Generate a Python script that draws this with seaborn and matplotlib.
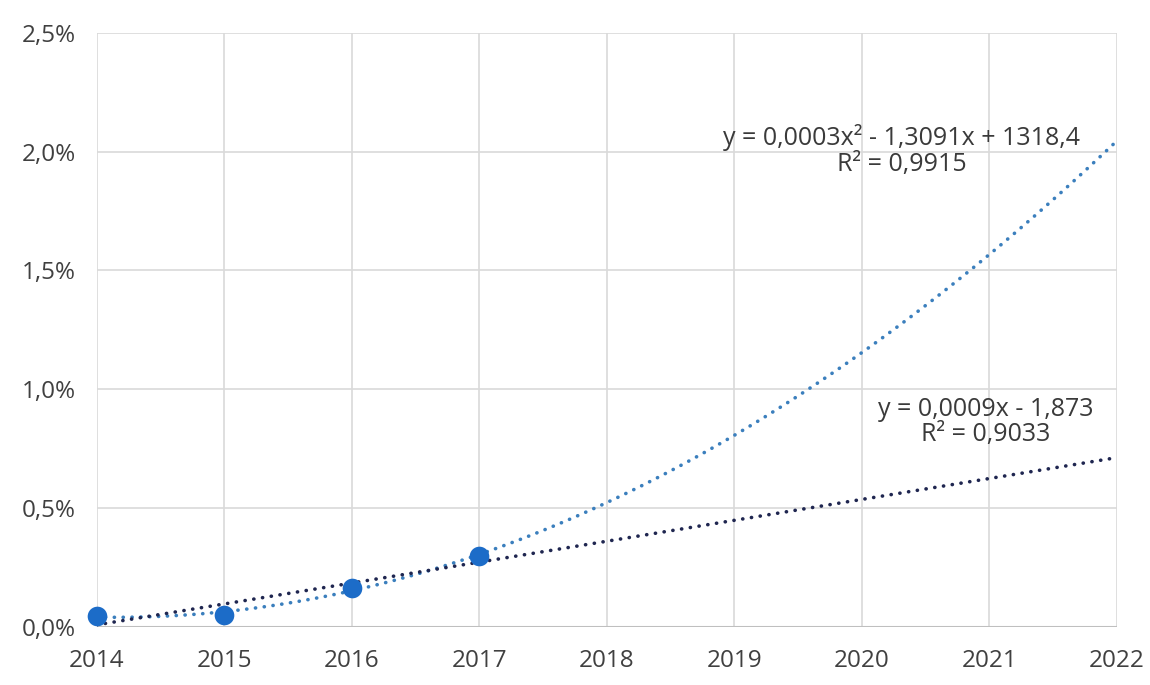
import matplotlib
matplotlib.use("Agg")
import matplotlib.pyplot as plt
from matplotlib.ticker import FuncFormatter
import seaborn as sns
import pandas as pd

# ---- data ----
years = [2014, 2015, 2016, 2017]
share = [0.00045, 0.0005, 0.00165, 0.0030]
x_ticks = [2014, 2015, 2016, 2017, 2018, 2019, 2020, 2021, 2022]
y_ticks = [0.0, 0.005, 0.010, 0.015, 0.020, 0.025]
poly_label = ["y = 0,0003x² - 1,3091x + 1318,4", "R² = 0,9915"]
lin_label = ["y = 0,0009x - 1,873", "R² = 0,9033"]

df = pd.DataFrame({"year": years, "share": share})

sns.set_theme(style="white")
plt.rcParams["font.family"] = ["Open Sans", "DejaVu Sans"]

fig = plt.figure(figsize=(11.5, 6.85), dpi=100)
ax = fig.add_axes([0.084, 0.085, 0.887, 0.867])

ax.set_xlim(x_ticks[0], x_ticks[-1])
ax.set_ylim(y_ticks[0], y_ticks[-1])

grid_c = "#d9d9d9"
for xv in x_ticks:
    ax.axvline(xv, color=grid_c, lw=1.2, zorder=0)
for yv in y_ticks[1:]:
    ax.axhline(yv, color=grid_c, lw=1.2, zorder=0)
ax.axhline(0, color="#bfbfbf", lw=1.5, zorder=1)

dot = (0, (0.05, 2.4))
# trend lines (fit through seaborn)
sns.regplot(data=df, x="year", y="share", order=2, ci=None, truncate=False,
            scatter=False, ax=ax,
            line_kws=dict(color="#3b7fbd", lw=2.6, ls=dot,
                          dash_capstyle="round", zorder=3))
sns.regplot(data=df, x="year", y="share", order=1, ci=None, truncate=False,
            scatter=False, ax=ax,
            line_kws=dict(color="#1f2650", lw=2.6, ls=dot,
                          dash_capstyle="round", zorder=3))

sns.scatterplot(data=df, x="year", y="share", s=200, color="#1c6cc8",
                edgecolor="#1c6cc8", linewidth=0, ax=ax, zorder=4, clip_on=False)

for s in ax.spines.values():
    s.set_visible(False)

ax.set_xticks(x_ticks)
ax.set_xticklabels([str(v) for v in x_ticks])
ax.set_yticks(y_ticks)
ax.yaxis.set_major_formatter(FuncFormatter(lambda v, p: f"{v*100:.1f}%".replace(".", ",")))
ax.tick_params(axis="x", length=0, pad=16, labelsize=17.5, labelcolor="#404040")
ax.tick_params(axis="y", length=0, pad=15, labelsize=17.5, labelcolor="#404040")
ax.set_xlabel("")
ax.set_ylabel("")

txt_kw = dict(transform=ax.transAxes, ha="center", va="center",
              fontsize=18, color="#3a3a3a")
ax.text(0.789, 0.824, poly_label[0], **txt_kw)
ax.text(0.789, 0.779, poly_label[1], **txt_kw)
ax.text(0.872, 0.366, lin_label[0], **txt_kw)
ax.text(0.872, 0.323, lin_label[1], **txt_kw)

fig.savefig("out.png", dpi=100, facecolor="white")
